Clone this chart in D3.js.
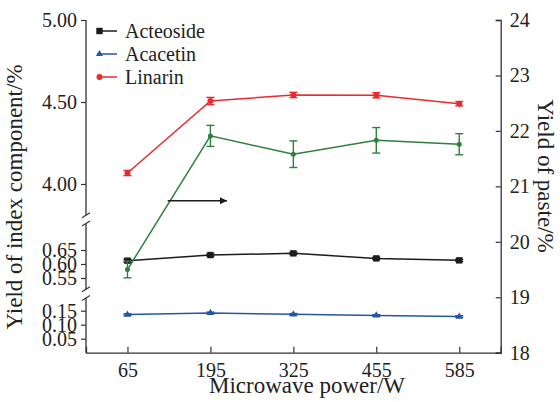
<!DOCTYPE html>
<html><head><meta charset="utf-8">
<script src="https://cdn.jsdelivr.net/npm/d3@7"></script>
</head><body style="margin:0"><svg id="c" width="560" height="402" font-family="Liberation Serif"></svg>
<script>
const categories = [65, 195, 325, 455, 585];
const acteoside = [0.612, 0.632, 0.638, 0.620, 0.613];
const acteosideErr = [0.005, 0.004, 0.004, 0.004, 0.004];
const acacetin = [0.136, 0.142, 0.137, 0.133, 0.129];
const acacetinErr = [0.003, 0.003, 0.003, 0.003, 0.003];
const linarin = [4.067, 4.506, 4.543, 4.541, 4.490];
const linarinErr = [0.016, 0.022, 0.016, 0.016, 0.013];
const paste = [19.50, 21.91, 21.58, 21.83, 21.76];
const pasteErr = [0.15, 0.19, 0.24, 0.23, 0.19];
const leftTicks = [[4.00, 4.50, 5.00], [0.55, 0.60, 0.65], [0.05, 0.10, 0.15]];
const rightTicks = [18, 19, 20, 21, 22, 23, 24];
const legendNames = ["Acteoside", "Acacetin", "Linarin"];

const svg = d3.select("#c");
const L = 86, R = 500.7, T = 20, B = 352.7;
const x = d3.scaleLinear().domain([0, 650]).range([L, R]);
const segs = [
  {s: d3.scaleLinear().domain([3.8, 5.0]).range([216.8, T]), lo: 3.81, hi: 5.0, ticks: leftTicks[0]},
  {s: d3.scaleLinear().domain([0.5, 0.75]).range([292, 222]), lo: 0.51, hi: 0.745, ticks: leftTicks[1]},
  {s: d3.scaleLinear().domain([0, 0.2]).range([B, 296.7]), lo: 0, hi: 0.195, ticks: leftTicks[2]}
];
function yL(v) { const g = v >= 2 ? segs[0] : (v >= 0.3 ? segs[1] : segs[2]); return g.s(v); }
const yR = d3.scaleLinear().domain([18, 24]).range([B, T]);

const axisCol = "#333";
function styleText(sel, size) {
  sel.style("font-family", "Liberation Serif").style("font-size", size + "px").attr("fill", "#222");
  return sel;
}
function fixAxis(g) {
  g.attr("font-family", "Liberation Serif").attr("font-size", 20);
}
segs.forEach(g => {
  svg.append("line").attr("x1", L).attr("x2", L).attr("y1", g.s(g.lo)).attr("y2", g.s(g.hi))
    .attr("stroke", axisCol).attr("stroke-width", 1.3);
  const ax = d3.axisLeft(g.s).tickValues(g.ticks).tickSize(5).tickPadding(4).tickFormat(d3.format(".2f"));
  const gg = svg.append("g").attr("transform", `translate(${L},0)`).call(ax);
  fixAxis(gg);
  gg.select(".domain").remove();
  gg.selectAll("line").attr("stroke", axisCol).attr("stroke-width", 1.2);
  styleText(gg.selectAll("text"), 20);
});
[segs[0].s(3.81), segs[1].s(0.745), segs[1].s(0.51), segs[2].s(0.195)].forEach(yy => {
  svg.append("line").attr("x1", L - 4).attr("x2", L + 4).attr("y1", yy + 2.5).attr("y2", yy - 2.5)
    .attr("stroke", axisCol).attr("stroke-width", 1.2);
});
const ra = svg.append("g").attr("transform", `translate(${R},0)`)
  .call(d3.axisRight(yR).tickValues(rightTicks).tickSize(-5).tickPadding(9).tickFormat(d3.format("d")));
fixAxis(ra);
ra.select(".domain").attr("stroke", axisCol).attr("stroke-width", 1.3);
ra.selectAll("line").attr("stroke", axisCol).attr("stroke-width", 1.2);
styleText(ra.selectAll("text"), 20);
const ba = svg.append("g").attr("transform", `translate(0,${B})`)
  .call(d3.axisBottom(x).tickValues(categories).tickSize(-6).tickPadding(10).tickFormat(d3.format("d")));
fixAxis(ba);
ba.select(".domain").attr("stroke", axisCol).attr("stroke-width", 1.3);
ba.selectAll("line").attr("stroke", axisCol).attr("stroke-width", 1.2);
styleText(ba.selectAll("text"), 20);

styleText(svg.append("text").attr("x", 307).attr("y", 393).attr("text-anchor", "middle").text("Microwave power/W"), 23);
styleText(svg.append("text").attr("transform", "translate(22,197) rotate(-90)").attr("text-anchor", "middle").text("Yield of index component/%"), 23);
styleText(svg.append("text").attr("transform", "translate(538,176) rotate(90)").attr("text-anchor", "middle").text("Yield of paste/%"), 23);

const series = [
  {v: acteoside, e: acteosideErr, y: yL, c: "#1c1c1c", m: "square"},
  {v: acacetin, e: acacetinErr, y: yL, c: "#2456a8", m: "triangle"},
  {v: linarin, e: linarinErr, y: yL, c: "#ec2a2e", m: "circle"},
  {v: paste, e: pasteErr, y: yR, c: "#2f7f3f", m: "dot"}
];
function marker(g, type, cx, cy, col) {
  if (type === "square") g.append("rect").attr("x", cx - 3.2).attr("y", cy - 3.2).attr("width", 6.4).attr("height", 6.4).attr("fill", col);
  else if (type === "triangle") g.append("path").attr("d", d3.symbol(d3.symbolTriangle, 22)()).attr("transform", `translate(${cx},${cy})`).attr("fill", col);
  else if (type === "circle") g.append("circle").attr("cx", cx).attr("cy", cy).attr("r", 3).attr("fill", col);
  else g.append("circle").attr("cx", cx).attr("cy", cy).attr("r", 2.5).attr("fill", col);
}
series.forEach(sr => {
  const line = d3.line().x((d, i) => x(categories[i])).y(d => sr.y(d));
  svg.append("path").attr("d", line(sr.v)).attr("fill", "none").attr("stroke", sr.c).attr("stroke-width", 1.5);
});
series.forEach(sr => {
  const g = svg.append("g");
  sr.v.forEach((d, i) => {
    const cx = x(categories[i]);
    const y1 = sr.y(d + sr.e[i]), y2 = sr.y(d - sr.e[i]);
    g.append("line").attr("x1", cx).attr("x2", cx).attr("y1", y1).attr("y2", y2).attr("stroke", sr.c).attr("stroke-width", 1.4);
    [y1, y2].forEach(yy => g.append("line").attr("x1", cx - 4).attr("x2", cx + 4).attr("y1", yy).attr("y2", yy).attr("stroke", sr.c).attr("stroke-width", 1.4));
    marker(g, sr.m, cx, sr.y(d), sr.c);
  });
});
const defs = svg.append("defs");
defs.append("marker").attr("id", "ah").attr("viewBox", "0 0 10 10").attr("refX", 10).attr("refY", 5)
  .attr("markerWidth", 14).attr("markerHeight", 7).attr("markerUnits", "userSpaceOnUse").attr("orient", "auto")
  .append("path").attr("d", "M0,0 L10,5 L0,10 Z").attr("fill", "#1c1c1c");
svg.append("line").attr("x1", x(128)).attr("x2", x(221)).attr("y1", yR(20.74)).attr("y2", yR(20.74))
  .attr("stroke", "#1c1c1c").attr("stroke-width", 1.4).attr("marker-end", "url(#ah)");

const lg = svg.append("g");
legendNames.forEach((n, i) => {
  const yy = 31 + i * 23;
  lg.append("line").attr("x1", 97).attr("x2", 117).attr("y1", yy).attr("y2", yy).attr("stroke", series[i].c).attr("stroke-width", 1.5);
  marker(lg, series[i].m, 99.5, yy, series[i].c);
  styleText(lg.append("text").attr("x", 125).attr("y", yy + 7).text(n), 20);
});
</script></body></html>
